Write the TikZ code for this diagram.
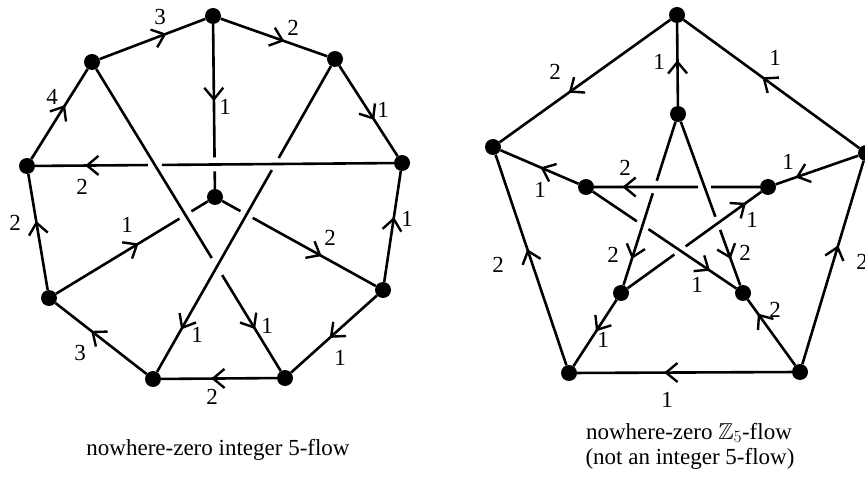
\documentclass[tikz,border=0pt]{standalone}
\usepackage{amssymb}
\usepackage{fontspec}
\setmainfont{Liberation Serif}
\usetikzlibrary{calc,decorations.markings}
\begin{document}
\begin{tikzpicture}[x=1pt,y=-1pt,
  dot/.style={circle,fill=black,inner sep=0pt,minimum size=16pt},
  edge/.style={line width=2.6pt},
  arr/.style={postaction={decorate},decoration={markings,mark=at position #1 with {\draw[line width=2.4pt,line join=miter,line cap=butt] (-11.5pt,9.5pt) -- (0pt,0pt) -- (-11.5pt,-9.5pt);}}},
  lab/.style={font=\fontsize{23}{27}\selectfont,inner sep=0pt},
  captxt/.style={font=\fontsize{23}{26}\selectfont,inner sep=0pt}
]
\useasboundingbox (0,0) rectangle (865,478);

% ---------- left graph: vertices ----------
\node[dot] (T)  at (213,16)  {};
\node[dot] (UL) at (92,62)   {};
\node[dot] (UR) at (335,59)  {};
\node[dot] (L)  at (27,166)  {};
\node[dot] (R)  at (402,163) {};
\node[dot] (C)  at (215,197) {};
\node[dot] (LL) at (49,298)  {};
\node[dot] (LR) at (383,290) {};
\node[dot] (BL) at (153,379) {};
\node[dot] (BR) at (285,378) {};

% crossings
\coordinate (X1) at (intersection of L.center--R.center and UL.center--BR.center);
\coordinate (X2) at (intersection of T.center--C.center and L.center--R.center);
\coordinate (X3) at (intersection of UR.center--BL.center and L.center--R.center);
\coordinate (X4) at (intersection of UL.center--BR.center and UR.center--BL.center);
\coordinate (X5) at (intersection of C.center--LL.center and UL.center--BR.center);
\coordinate (X6) at (intersection of C.center--LR.center and UR.center--BL.center);

% edges
\draw[edge] (UL) -- (T) -- (UR) -- (R) -- (LR) -- (BR) -- (BL) -- (LL) -- (L) -- (UL);
\draw[edge] (L) -- ($(X1)!7pt!(L.center)$) ($(X1)!7pt!(R.center)$) -- (R);
\draw[edge] (T) -- ($(X2)!7pt!(T.center)$) ($(X2)!7pt!(C.center)$) -- (C);
\draw[edge] (UR) -- ($(X3)!7pt!(UR.center)$) ($(X3)!7pt!(BL.center)$) -- (BL);
\draw[edge] (UL) -- ($(X4)!10pt!(UL.center)$) ($(X4)!10pt!(BR.center)$) -- (BR);
\draw[edge] (C) -- ($(X5)!7pt!(C.center)$) ($(X5)!7pt!(LL.center)$) -- (LL);
\draw[edge] (C) -- ($(X6)!7pt!(C.center)$) ($(X6)!7pt!(LR.center)$) -- (LR);

% arrows
\path[arr=0.60] (UL.center) -- (T.center);
\path[arr=0.57] (T.center) -- (UR.center);
\path[arr=0.57] (UR.center) -- (R.center);
\path[arr=0.46] (T.center) -- (C.center);
\path[arr=0.57] (L.center) -- (UL.center);
\path[arr=0.84] (R.center) -- (L.center);
\path[arr=0.57] (LL.center) -- (L.center);
\path[arr=0.53] (LL.center) -- (C.center);
\path[arr=0.625] (C.center) -- (LR.center);
\path[arr=0.56] (LR.center) -- (R.center);
\path[arr=0.84] (UL.center) -- (BR.center);
\path[arr=0.84] (UR.center) -- (BL.center);
\path[arr=0.58] (BL.center) -- (LL.center);
\path[arr=0.53] (LR.center) -- (BR.center);
\path[arr=0.545] (BR.center) -- (BL.center);

% labels
\node[lab] (a1)  at (160,17)  {3};
\node[lab] (a2)  at (293,28)  {2};
\node[lab] (a3)  at (383,110) {1};
\node[lab] (a4)  at (225,107) {1};
\node[lab] (a5)  at (52,97)   {4};
\node[lab] (a6)  at (82,187)  {2};
\node[lab] (a7)  at (15,223)  {2};
\node[lab] (a8)  at (127,225) {1};
\node[lab] (a9)  at (330,238) {2};
\node[lab] (a10) at (407,219) {1};
\node[lab] (a11) at (267,326) {1};
\node[lab] (a12) at (197,335) {1};
\node[lab] (a13) at (80,353)  {3};
\node[lab] (a14) at (340,358) {1};
\node[lab] (a15) at (212,397) {2};

% ---------- right graph (Petersen) ----------
\node[dot] (OT)  at (677,15)  {};
\node[dot] (OL)  at (493,147) {};
\node[dot] (OR)  at (866,153) {};
\node[dot] (OBL) at (569,373) {};
\node[dot] (OBR) at (800,372) {};
\node[dot] (IT)  at (678,114) {};
\node[dot] (IL)  at (586,187) {};
\node[dot] (IR)  at (768,187) {};
\node[dot] (IBL) at (621,293) {};
\node[dot] (IBR) at (743,293) {};

\coordinate (Y1) at (intersection of IL.center--IR.center and IT.center--IBR.center);
\coordinate (Y2) at (intersection of IT.center--IBL.center and IL.center--IR.center);
\coordinate (Y3) at (intersection of IL.center--IBR.center and IT.center--IBL.center);
\coordinate (Y4) at (intersection of IR.center--IBL.center and IL.center--IBR.center);
\coordinate (Y5) at (intersection of IT.center--IBR.center and IR.center--IBL.center);

\draw[edge] (OT) -- (OL) -- (OBL) -- (OBR) -- (OR) -- (OT);
\draw[edge] (OT) -- (IT);
\draw[edge] (OL) -- (IL);
\draw[edge] (OR) -- (IR);
\draw[edge] (OBL) -- (IBL);
\draw[edge] (OBR) -- (IBR);
\draw[edge] (IL) -- ($(Y1)!6.5pt!(IL.center)$) ($(Y1)!6.5pt!(IR.center)$) -- (IR);
\draw[edge] (IT) -- ($(Y2)!6.5pt!(IT.center)$) ($(Y2)!6.5pt!(IBL.center)$) -- (IBL);
\draw[edge] (IL) -- ($(Y3)!7pt!(IL.center)$) ($(Y3)!7pt!(IBR.center)$) -- (IBR);
\draw[edge] (IR) -- ($(Y4)!7pt!(IR.center)$) ($(Y4)!7pt!(IBL.center)$) -- (IBL);
\draw[edge] (IT) -- ($(Y5)!7pt!(IT.center)$) ($(Y5)!7pt!(IBR.center)$) -- (IBR);

\path[arr=0.58] (OT.center) -- (OL.center);
\path[arr=0.54] (OR.center) -- (OT.center);
\path[arr=0.57] (OBR.center) -- (OR.center);
\path[arr=0.54] (OBL.center) -- (OL.center);
\path[arr=0.58] (OBR.center) -- (OBL.center);
\path[arr=0.525] (IT.center) -- (OT.center);
\path[arr=0.47] (IL.center) -- (OL.center);
\path[arr=0.70] (OR.center) -- (IR.center);
\path[arr=0.46] (IBL.center) -- (OBL.center);
\path[arr=0.72] (OBR.center) -- (IBR.center);
\path[arr=0.79] (IR.center) -- (IL.center);
\path[arr=0.80] (IT.center) -- (IBL.center);
\path[arr=0.80] (IT.center) -- (IBR.center);
\path[arr=0.78] (IL.center) -- (IBR.center);
\path[arr=0.84] (IBL.center) -- (IR.center);

\node[lab] (b1)  at (555,72)  {2};
\node[lab] (b2)  at (775,58)  {1};
\node[lab] (b3)  at (862,262) {2};
\node[lab] (b4)  at (498,265) {2};
\node[lab] (b5)  at (667,400) {1};
\node[lab] (b6)  at (659,62)  {1};
\node[lab] (b7)  at (540,190) {1};
\node[lab] (b8)  at (788,162) {1};
\node[lab] (b9)  at (603,340) {1};
\node[lab] (b10) at (775,310) {2};
\node[lab] (b11) at (625,168) {2};
\node[lab] (b12) at (613,255) {2};
\node[lab] (b13) at (745,253) {2};
\node[lab] (b14) at (697,285) {1};
\node[lab] (b15) at (752,220) {1};

% captions
\node[captxt,anchor=base] (c1) at (218,455) {nowhere-zero integer 5-flow};
\node[captxt,anchor=base] (c2) at (689,439) {nowhere-zero $\mathbb{Z}_5$-flow};
\node[captxt,anchor=base] (c3) at (690,464) {(not an integer 5-flow)};
\end{tikzpicture}
\end{document}
